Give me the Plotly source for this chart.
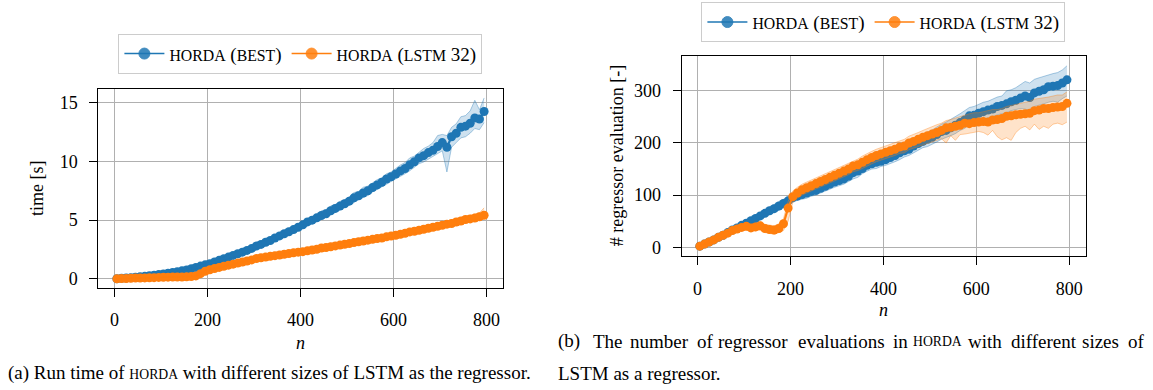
import plotly.graph_objects as go

# ---------------- data ----------------
n_vals = [5, 15, 25, 35, 45, 55, 65, 75, 85, 95,
          105, 115, 125, 135, 145, 155, 165, 175, 185, 195,
          205, 215, 225, 235, 245, 255, 265, 275, 285, 295,
          305, 315, 325, 335, 345, 355, 365, 375, 385, 395,
          405, 415, 425, 435, 445, 455, 465, 475, 485, 495,
          505, 515, 525, 535, 545, 555, 565, 575, 585, 595,
          605, 615, 625, 635, 645, 655, 665, 675, 685, 695,
          705, 715, 725, 735, 745, 755, 765, 775, 785, 795]

# (a) run time [s]
time_best = [0.02, 0.05, 0.08, 0.11, 0.14, 0.18, 0.22, 0.27, 0.32, 0.37,
             0.42, 0.48, 0.55, 0.62, 0.69, 0.77, 0.87, 0.98, 1.09, 1.2,
             1.3, 1.44, 1.58, 1.72, 1.86, 2.0, 2.14, 2.28, 2.43, 2.6,
             2.8, 2.94, 3.12, 3.27, 3.48, 3.66, 3.84, 4.02, 4.2, 4.4,
             4.6, 4.85, 5.0, 5.2, 5.4, 5.55, 5.8, 6.0, 6.2, 6.4,
             6.62, 6.9, 7.08, 7.31, 7.5, 7.77, 8.0, 8.23, 8.5, 8.69,
             8.93, 9.19, 9.4, 9.71, 9.97, 10.3, 10.49, 10.75, 10.95, 11.27,
             11.6, 11.2, 12.1, 12.4, 12.9, 13.0, 13.25, 13.7, 13.6, 14.25]
time_best_lo = [0.0, 0.03, 0.06, 0.09, 0.12, 0.15, 0.19, 0.24, 0.28, 0.33,
                0.37, 0.43, 0.49, 0.56, 0.62, 0.69, 0.79, 0.88, 0.99, 1.09,
                1.18, 1.3, 1.44, 1.58, 1.7, 1.82, 1.98, 2.1, 2.25, 2.4,
                2.58, 2.72, 2.9, 3.02, 3.24, 3.4, 3.56, 3.78, 3.92, 4.12,
                4.3, 4.55, 4.7, 4.88, 5.05, 5.25, 5.45, 5.7, 5.85, 6.05,
                6.25, 6.5, 6.75, 6.9, 7.1, 7.4, 7.6, 7.85, 8.05, 8.3,
                8.5, 8.75, 8.95, 9.2, 9.5, 9.8, 9.95, 10.2, 10.4, 10.7,
                10.9, 9.1, 11.2, 11.6, 12.0, 12.1, 12.4, 12.8, 12.7, 13.3]
time_best_hi = [0.04, 0.07, 0.1, 0.13, 0.17, 0.21, 0.25, 0.3, 0.36, 0.41,
                0.48, 0.54, 0.62, 0.69, 0.77, 0.86, 0.96, 1.08, 1.2, 1.32,
                1.44, 1.58, 1.74, 1.88, 2.04, 2.2, 2.32, 2.5, 2.64, 2.82,
                3.02, 3.2, 3.36, 3.55, 3.72, 3.95, 4.1, 4.3, 4.5, 4.7,
                4.9, 5.15, 5.35, 5.5, 5.8, 5.9, 6.2, 6.35, 6.6, 6.75,
                7.0, 7.35, 7.45, 7.8, 7.9, 8.2, 8.45, 8.6, 8.95, 9.1,
                9.4, 9.7, 9.9, 10.3, 10.45, 10.8, 11.1, 11.3, 11.6, 12.2,
                12.3, 12.2, 12.9, 13.2, 13.8, 13.9, 14.3, 15.2, 14.4, 15.4]

time_lstm = [0.01, 0.03, 0.04, 0.06, 0.07, 0.08, 0.09, 0.1, 0.11, 0.13,
             0.14, 0.15, 0.16, 0.17, 0.17, 0.18, 0.2, 0.26, 0.45, 0.65,
             0.78, 0.88, 0.98, 1.08, 1.17, 1.26, 1.35, 1.44, 1.53, 1.62,
             1.74, 1.8, 1.86, 1.92, 1.98, 2.04, 2.1, 2.16, 2.22, 2.28,
             2.32, 2.39, 2.46, 2.53, 2.63, 2.67, 2.74, 2.81, 2.88, 2.95,
             3.02, 3.09, 3.16, 3.23, 3.3, 3.37, 3.44, 3.48, 3.58, 3.65,
             3.72, 3.8, 3.89, 4.0, 4.06, 4.14, 4.23, 4.31, 4.4, 4.48,
             4.57, 4.66, 4.72, 4.84, 4.93, 5.06, 5.11, 5.18, 5.29, 5.42]
time_lstm_lo = [0.0, 0.02, 0.03, 0.05, 0.06, 0.07, 0.08, 0.09, 0.1, 0.11,
                0.12, 0.13, 0.14, 0.15, 0.15, 0.16, 0.17, 0.2, 0.35, 0.56,
                0.72, 0.82, 0.92, 1.02, 1.1, 1.2, 1.28, 1.38, 1.46, 1.56,
                1.66, 1.72, 1.78, 1.83, 1.9, 1.95, 2.01, 2.07, 2.12, 2.18,
                2.21, 2.28, 2.35, 2.41, 2.5, 2.55, 2.62, 2.68, 2.75, 2.82,
                2.88, 2.96, 3.02, 3.08, 3.16, 3.22, 3.3, 3.34, 3.43, 3.5,
                3.55, 3.63, 3.72, 3.8, 3.87, 3.95, 4.03, 4.1, 4.2, 4.26,
                4.34, 4.42, 4.5, 4.58, 4.68, 4.78, 4.85, 4.92, 5.0, 5.1]
time_lstm_hi = [0.02, 0.04, 0.05, 0.07, 0.08, 0.09, 0.1, 0.11, 0.13, 0.15,
                0.16, 0.17, 0.18, 0.19, 0.19, 0.21, 0.24, 0.33, 0.55, 0.74,
                0.84, 0.94, 1.05, 1.14, 1.24, 1.33, 1.42, 1.5, 1.6, 1.69,
                1.82, 1.89, 1.94, 2.02, 2.06, 2.13, 2.2, 2.25, 2.32, 2.38,
                2.43, 2.5, 2.58, 2.66, 2.75, 2.8, 2.88, 2.94, 3.02, 3.08,
                3.17, 3.24, 3.32, 3.4, 3.45, 3.54, 3.6, 3.66, 3.75, 3.82,
                3.9, 3.98, 4.08, 4.2, 4.26, 4.35, 4.45, 4.52, 4.6, 4.72,
                4.82, 4.92, 5.0, 5.1, 5.2, 5.35, 5.4, 5.5, 5.62, 6.05]

# (b) number of regressor evaluations
eval_best = [2, 6, 10, 14, 19, 23, 28, 33, 37, 42,
             46, 51, 55, 60, 65, 70, 74, 79, 84, 89,
             95, 98, 101, 104, 107, 109, 113, 117, 121, 125,
             128, 131, 136, 143, 146, 151, 157, 160, 163, 165,
             168, 172, 176, 181, 185, 188, 194, 199, 203, 207,
             211, 216, 222, 224, 229, 234, 239, 244, 252, 253,
             257, 260, 263, 265, 270, 272, 275, 279, 282, 286,
             290, 287, 296, 299, 302, 308, 309, 310, 315, 321]
eval_best_lo = [1, 4, 8, 12, 16, 20, 24, 29, 33, 37,
                41, 45, 50, 54, 58, 63, 67, 71, 75, 80,
                86, 90, 92, 94, 98, 100, 104, 108, 111, 115,
                118, 121, 126, 131, 134, 141, 146, 150, 151, 155,
                157, 160, 164, 168, 173, 176, 181, 186, 191, 193,
                197, 202, 207, 210, 214, 218, 224, 228, 235, 238,
                240, 244, 248, 250, 254, 256, 258, 262, 264, 266,
                265, 262, 270, 272, 275, 278, 280, 278, 285, 290]
eval_best_hi = [3, 8, 12, 17, 22, 27, 32, 37, 42, 47,
                52, 57, 62, 67, 72, 77, 82, 87, 93, 98,
                102, 106, 110, 114, 117, 119, 123, 127, 131, 135,
                138, 142, 147, 154, 157, 162, 168, 171, 175, 176,
                180, 185, 188, 193, 198, 201, 207, 212, 216, 221,
                225, 231, 236, 240, 245, 250, 256, 262, 268, 270,
                274, 278, 280, 284, 288, 290, 300, 302, 306, 312,
                318, 315, 322, 325, 328, 330, 333, 335, 340, 348]

eval_lstm = [2, 6, 10, 14, 19, 23, 27, 32, 35, 38,
             40, 37, 39, 41, 36, 34, 33, 36, 45, 75,
             97, 104, 110, 114, 118, 122, 126, 130, 134, 138,
             142, 146, 150, 156, 158, 163, 168, 172, 176, 179,
             182, 185, 188, 192, 194, 200, 203, 207, 211, 214,
             217, 220, 224, 229, 230, 232, 234, 238, 237, 239,
             240, 241, 240, 244, 245, 247, 251, 252, 254, 255,
             256, 257, 262, 263, 266, 266, 268, 269, 270, 276]
eval_lstm_lo = [1, 4, 8, 12, 16, 20, 23, 27, 30, 32,
                33, 30, 31, 33, 28, 26, 25, 28, 32, 50,
                86, 94, 100, 104, 108, 112, 116, 119, 123, 127,
                131, 135, 139, 145, 147, 151, 156, 160, 164, 167,
                170, 172, 176, 180, 181, 187, 190, 194, 197, 200,
                202, 205, 208, 200, 214, 205, 216, 217, 219, 221,
                222, 220, 215, 224, 212, 206, 210, 205, 220, 228,
                232, 225, 236, 226, 232, 228, 236, 238, 235, 240]
eval_lstm_hi = [3, 8, 12, 17, 22, 27, 31, 36, 40, 44,
                47, 44, 47, 49, 44, 42, 41, 45, 55, 88,
                108, 115, 121, 125, 129, 133, 137, 141, 145, 149,
                153, 157, 161, 166, 169, 175, 180, 184, 188, 191,
                194, 198, 200, 204, 207, 213, 216, 220, 224, 228,
                231, 235, 238, 243, 245, 248, 250, 254, 256, 258,
                258, 260, 262, 264, 264, 266, 270, 272, 274, 276,
                278, 280, 284, 285, 286, 288, 290, 292, 292, 298]

x_ticks = [0, 200, 400, 600, 800]
time_ticks = [0, 5, 10, 15]
eval_ticks = [0, 100, 200, 300]

# ---------------- style ----------------
W, H = 1153, 390
FONT = "Liberation Serif"
BLUE = "#1f77b4"
ORANGE = "#ff7f0e"
BAND = {BLUE: "rgba(31,119,180,0.22)", ORANGE: "rgba(255,127,14,0.22)"}
BAND_EDGE = {BLUE: "rgba(31,119,180,0.45)", ORANGE: "rgba(255,127,14,0.45)"}
LEG_FONT = 19
LEG_SC = 15.8   # small caps size in legend
CAP_FONT = 19
CAP_SC = 13.7   # small caps size in captions


def sc(t, size):
    return f'<span style="font-size:{size}px">{t}</span>'


def px(xp):
    return xp / W


def py(yp):
    return 1 - yp / H


fig = go.Figure()


def add_series(xa, ya, mean, lo, hi, color, name, legend):
    fig.add_trace(go.Scatter(x=n_vals, y=mean, mode="lines+markers", xaxis=xa, yaxis=ya,
                             line=dict(color=color, width=2.2),
                             marker=dict(color=color, size=9),
                             showlegend=False, hoverinfo="skip"))
    fig.add_trace(go.Scatter(x=n_vals, y=lo, mode="lines", xaxis=xa, yaxis=ya,
                             line=dict(color=BAND_EDGE[color], width=0.8),
                             showlegend=False, hoverinfo="skip"))
    fig.add_trace(go.Scatter(x=n_vals, y=hi, mode="lines", xaxis=xa, yaxis=ya,
                             line=dict(color=BAND_EDGE[color], width=0.8),
                             fill="tonexty", fillcolor=BAND[color],
                             showlegend=False, hoverinfo="skip"))
    # legend entry
    fig.add_trace(go.Scatter(x=[None], y=[None], mode="lines+markers", xaxis=xa, yaxis=ya,
                             line=dict(color=color, width=1.5),
                             marker=dict(color=color, size=11, opacity=0.85,
                                         line=dict(color=color, width=1)),
                             name=name, legend=legend, showlegend=True))


name_best = f'{sc("HORDA", LEG_SC)} ({sc("BEST", LEG_SC)})'
name_lstm = f'{sc("HORDA", LEG_SC)} ({sc("LSTM", LEG_SC)} 32)'

add_series("x", "y", time_best, time_best_lo, time_best_hi, BLUE, name_best, "legend")
add_series("x", "y", time_lstm, time_lstm_lo, time_lstm_hi, ORANGE, name_lstm, "legend")
add_series("x2", "y2", eval_best, eval_best_lo, eval_best_hi, BLUE, name_best, "legend2")
add_series("x2", "y2", eval_lstm, eval_lstm_lo, eval_lstm_hi, ORANGE, name_lstm, "legend2")

axis_common = dict(showline=True, linecolor="black", linewidth=1, mirror=True,
                   showgrid=True, gridcolor="#b0b0b0", gridwidth=1,
                   ticks="outside", ticklen=8, tickwidth=1, tickcolor="black",
                   tickfont=dict(family=FONT, size=18, color="black"),
                   ticklabelstandoff=8, zeroline=False)

legend_common = dict(orientation="h", bgcolor="white", bordercolor="#cccccc", borderwidth=1,
                     font=dict(family=FONT, size=LEG_FONT, color="black"), traceorder="normal",
                     xanchor="center", yanchor="middle", itemwidth=40)

annotations = []


def ann(text, x, y, xanchor="left", angle=0, italic=False, size=18):
    annotations.append(dict(text=f"<i>{text}</i>" if italic else text,
                            x=px(x), y=py(y), xref="paper", yref="paper",
                            xanchor=xanchor, yanchor="middle", showarrow=False,
                            textangle=angle, borderpad=0,
                            font=dict(family=FONT, size=size, color="black")))


ann("time [s]", 37, 189, "center", -90)
ann("# regressor evaluation [-]", 617, 157, "center", -90)
ann("n", 300.5, 345, "center", italic=True)
ann("n", 883.7, 312, "center", italic=True)
ann(f"(a) Run time of {sc('HORDA', CAP_SC)} with different sizes of LSTM as the regressor.", 7, 375,
    size=CAP_FONT)
words_b = [(557, "(b)"), (591.5, "The"), (629, "number"), (696, "of"), (717, "regressor"),
           (797, "evaluations"), (892, "in"), (911.5, sc("HORDA", CAP_SC)), (967, "with"),
           (1009.6, "different"), (1080.8, "sizes"), (1127, "of")]
for xw, w in words_b:
    ann(w, xw, 343, size=CAP_FONT)
ann("LSTM as a regressor.", 557, 375, size=CAP_FONT)

fig.update_layout(
    width=W, height=H, autosize=False,
    margin=dict(l=0, r=0, t=0, b=0),
    paper_bgcolor="white", plot_bgcolor="white",
    font=dict(family=FONT, size=18, color="black"),
    xaxis=dict(domain=[px(98.3), px(502.7)], range=[-35, 835], tickvals=x_ticks, anchor="y", **axis_common),
    yaxis=dict(domain=[py(289), py(89)], range=[-0.73, 16.2], tickvals=time_ticks, anchor="x", **axis_common),
    xaxis2=dict(domain=[px(681.7), px(1086)], range=[-34, 836], tickvals=x_ticks, anchor="y2", **axis_common),
    yaxis2=dict(domain=[py(257.3), py(56.7)], range=[-16.8, 366], tickvals=eval_ticks, anchor="x2",
                **axis_common),
    legend=dict(x=px(300.4), y=py(54), **legend_common),
    legend2=dict(x=px(883.4), y=py(22.3), **legend_common),
    annotations=annotations,
)

fig.write_html("out.html", config={"displayModeBar": False},
               post_script="document.body.style.margin='0px';")
